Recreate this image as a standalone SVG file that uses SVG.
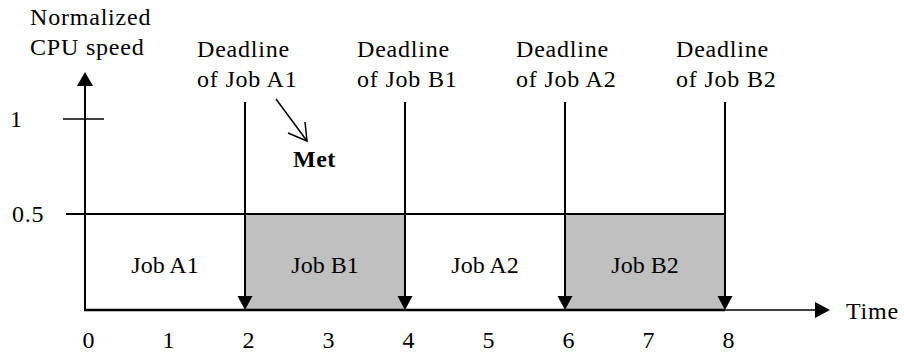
<svg xmlns="http://www.w3.org/2000/svg" width="904" height="356" viewBox="0 0 904 356">
  <style>
    text { font-family: "Liberation Serif", "Times New Roman", serif; font-size: 24px; letter-spacing: 0.8px; fill: #000; }
    .mid { text-anchor: middle; }
    .job { letter-spacing: 0; }
    .bold { font-weight: bold; letter-spacing: 0.5px; }
    .ln { stroke: #000; fill: none; }
    .head { fill: #000; }
  </style>
  <rect width="904" height="356" fill="#fff"/>

  <!-- shaded job slots (jobs B) -->
  <g id="slots">
    <rect x="245" y="214" width="160" height="96" fill="#c0c0c0"/>
    <rect x="565" y="214" width="160" height="96" fill="#c0c0c0"/>
  </g>

  <!-- axes -->
  <g id="axes">
    <line class="ln" x1="85" y1="84" x2="85" y2="311" stroke-width="2"/>
    <polygon class="head" points="85,72 77,86 93,86"/>
    <line class="ln" x1="84" y1="310" x2="725" y2="310" stroke-width="2.5"/>
    <line class="ln" x1="725" y1="310" x2="818" y2="310" stroke-width="1.5"/>
    <polygon class="head" points="830,310 815,302 815,318"/>
    <line class="ln" x1="63" y1="119" x2="104" y2="119" stroke-width="1.5"/>
    <line class="ln" x1="66" y1="214" x2="725" y2="214" stroke-width="2"/>
  </g>

  <!-- deadline connectors -->
  <g id="connectors">
    <line class="ln" x1="245" y1="102" x2="245" y2="298" stroke-width="2"/>
    <polygon class="head" points="245,310 237.5,296 252.5,296"/>
    <line class="ln" x1="405" y1="102" x2="405" y2="298" stroke-width="2"/>
    <polygon class="head" points="405,310 397.5,296 412.5,296"/>
    <line class="ln" x1="565" y1="102" x2="565" y2="298" stroke-width="2"/>
    <polygon class="head" points="565,310 557.5,296 572.5,296"/>
    <line class="ln" x1="725" y1="102" x2="725" y2="298" stroke-width="2"/>
    <polygon class="head" points="725,310 717.5,296 732.5,296"/>
    <!-- pointer to "Met" -->
    <line class="ln" x1="276" y1="99" x2="307" y2="141" stroke-width="1.5"/>
    <polyline class="ln" points="288,133 307,141 305,122" stroke-width="1.5"/>
  </g>

  <!-- axis labels -->
  <g id="y-label">
    <text x="30" y="25">Normalized</text>
    <text x="30" y="55">CPU speed</text>
  </g>
  <g id="y-ticks">
    <text x="10" y="127">1</text>
    <text x="12" y="222">0.5</text>
  </g>
  <g id="x-label">
    <text x="846" y="319">Time</text>
  </g>
  <g id="x-ticks">
    <text class="mid" x="89" y="348">0</text>
    <text class="mid" x="169" y="348">1</text>
    <text class="mid" x="249" y="348">2</text>
    <text class="mid" x="329" y="348">3</text>
    <text class="mid" x="409" y="348">4</text>
    <text class="mid" x="489" y="348">5</text>
    <text class="mid" x="569" y="348">6</text>
    <text class="mid" x="649" y="348">7</text>
    <text class="mid" x="729" y="348">8</text>
  </g>

  <!-- deadline labels -->
  <g id="deadline-a1">
    <text x="197" y="57">Deadline</text>
    <text x="197" y="87">of Job A1</text>
  </g>
  <g id="deadline-b1">
    <text x="357" y="57">Deadline</text>
    <text x="357" y="87">of Job B1</text>
  </g>
  <g id="deadline-a2">
    <text x="516" y="57">Deadline</text>
    <text x="516" y="87">of Job A2</text>
  </g>
  <g id="deadline-b2">
    <text x="676" y="57">Deadline</text>
    <text x="676" y="87">of Job B2</text>
  </g>
  <g id="met">
    <text class="bold" x="293" y="167">Met</text>
  </g>

  <!-- job labels -->
  <g id="jobs">
    <text class="mid job" x="165" y="273">Job A1</text>
    <text class="mid job" x="325" y="273">Job B1</text>
    <text class="mid job" x="485" y="273">Job A2</text>
    <text class="mid job" x="645" y="273">Job B2</text>
  </g>
</svg>
